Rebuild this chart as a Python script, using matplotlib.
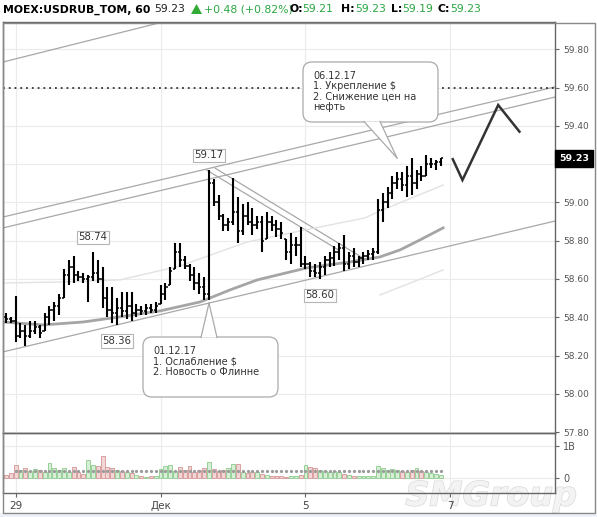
import matplotlib
matplotlib.use("Agg")
import matplotlib.pyplot as plt
import matplotlib.patheffects as pe
from matplotlib.patches import FancyBboxPatch, Polygon, Rectangle
import numpy as np

plt.rcParams['font.family'] = ['DejaVu Sans']

# hourly bars: last two hours of Nov 28, then Nov 29 .. Dec 6 (15 bars a day)
highs = [58.42, 58.40, 58.51, 58.37, 58.36, 58.38, 58.38, 58.36, 58.42, 58.46,
         58.48, 58.52, 58.65, 58.70, 58.72, 58.64, 58.63, 58.62, 58.74, 58.70,
         58.66, 58.56, 58.56, 58.50, 58.53, 58.53, 58.53, 58.47, 58.46, 58.47,
         58.47, 58.48, 58.57, 58.58, 58.66, 58.79, 58.79, 58.72, 58.68, 58.66,
         58.63, 58.61, 59.17, 59.12, 59.04, 58.94, 58.92, 59.13, 59.03, 58.99,
         59.00, 58.97, 58.93, 58.93, 58.95, 58.93, 58.91, 58.90, 58.81, 58.84,
         58.82, 58.87, 58.72, 58.69, 58.68, 58.69, 58.72, 58.74, 58.77, 58.79,
         58.83, 58.74, 58.76, 58.72, 58.74, 58.75, 58.76, 59.02, 59.05, 59.08,
         59.14, 59.16, 59.16, 59.19, 59.23, 59.17, 59.19, 59.25, 59.23, 59.22, 59.23]
lows = [58.37, 58.37, 58.27, 58.29, 58.25, 58.29, 58.31, 58.29, 58.33, 58.36,
        58.38, 58.41, 58.50, 58.57, 58.58, 58.59, 58.58, 58.48, 58.59, 58.58,
        58.45, 58.40, 58.37, 58.36, 58.40, 58.39, 58.38, 58.40, 58.41, 58.41,
        58.42, 58.42, 58.47, 58.49, 58.57, 58.65, 58.66, 58.65, 58.59, 58.54,
        58.52, 58.49, 58.49, 58.98, 58.91, 58.85, 58.85, 58.88, 58.79, 58.83,
        58.88, 58.83, 58.86, 58.74, 58.81, 58.85, 58.82, 58.81, 58.70, 58.68,
        58.72, 58.66, 58.65, 58.61, 58.61, 58.60, 58.62, 58.66, 58.67, 58.70,
        58.64, 58.65, 58.66, 58.66, 58.68, 58.70, 58.70, 58.73, 58.90, 58.97,
        59.02, 59.07, 59.06, 59.03, 59.04, 59.07, 59.11, 59.14, 59.18, 59.17, 59.19]
closes = [58.39, 58.38, 58.30, 58.33, 58.30, 58.33, 58.35, 58.32, 58.40, 58.44,
          58.46, 58.50, 58.62, 58.66, 58.62, 58.61, 58.60, 58.61, 58.63, 58.60,
          58.50, 58.44, 58.42, 58.45, 58.43, 58.46, 58.42, 58.44, 58.43, 58.45,
          58.44, 58.46, 58.52, 58.56, 58.64, 58.74, 58.70, 58.67, 58.62, 58.58,
          58.56, 58.52, 59.10, 59.00, 58.93, 58.88, 58.90, 58.95, 58.85, 58.93,
          58.90, 58.88, 58.90, 58.80, 58.90, 58.88, 58.86, 58.84, 58.74, 58.78,
          58.78, 58.68, 58.68, 58.64, 58.63, 58.66, 58.70, 58.71, 58.74, 58.76,
          58.68, 58.72, 58.69, 58.71, 58.72, 58.73, 58.74, 58.96, 59.00, 59.05,
          59.10, 59.12, 59.09, 59.14, 59.10, 59.15, 59.14, 59.20, 59.20, 59.21, 59.23]
first_open = 58.40
volumes = [0.10, 0.15, 0.40, 0.25, 0.30, 0.22, 0.28, 0.25, 0.20, 0.48,
           0.30, 0.25, 0.30, 0.20, 0.35, 0.18, 0.12, 0.55, 0.42, 0.38,
           0.70, 0.35, 0.30, 0.25, 0.22, 0.20, 0.15, 0.08, 0.05, 0.04,
           0.05, 0.06, 0.28, 0.38, 0.40, 0.22, 0.35, 0.25, 0.38, 0.20,
           0.25, 0.30, 0.50, 0.28, 0.22, 0.25, 0.30, 0.45, 0.45, 0.20,
           0.15, 0.18, 0.20, 0.12, 0.08, 0.06, 0.05, 0.05, 0.04, 0.05,
           0.05, 0.08, 0.40, 0.35, 0.30, 0.25, 0.22, 0.20, 0.22, 0.18,
           0.12, 0.08, 0.06, 0.05, 0.05, 0.06, 0.06, 0.38, 0.30, 0.25,
           0.28, 0.25, 0.22, 0.20, 0.25, 0.30, 0.22, 0.18, 0.15, 0.12, 0.08]
vol_avg = 0.21

# moving averages (bar index, price)
ma_slow_x = [-0.6, 7.7, 15.9, 23.6, 31.9, 40.2, 46.4, 52.0, 62.3, 71.2, 77.4, 81.6, 85.7, 90.5]
ma_slow_y = [58.375, 58.360, 58.375, 58.402, 58.433, 58.480, 58.543, 58.595, 58.658,
             58.689, 58.715, 58.752, 58.804, 58.867]
ma_fast_x = [-0.6, 11.2, 23.6, 36.0, 49.9, 61.9, 74.3, 77.4, 90.5]
ma_fast_y = [58.579, 58.584, 58.595, 58.668, 58.793, 58.856, 58.919, 58.955, 59.091]
band_low_x = [77.4, 90.5]
band_low_y = [58.516, 58.647]

# trend lines: (x0, y0, x1, y1)
trend_lines = [
    (-0.6, 58.924, 113.7, 59.604),
    (-0.6, 58.867, 113.7, 59.551),
    (-0.6, 59.734, 36.6, 59.969),
    (-0.6, 58.219, 113.7, 58.903),
    (41.5, 59.170, 68.8, 58.752),
    (43.3, 59.179, 74.0, 58.708),
]
level_line = 59.60

# forecast zigzag
zig_x = [92.5, 94.5, 101.9, 106.3]
zig_y = [59.226, 59.117, 59.509, 59.370]

pivot_idx = [18, 23, 42, 65]
pivot_kind = ['high', 'low', 'high', 'low']

day_ticks = [2, 32, 62, 92]
day_labels = ['29', 'Дек', '5', '7']
price_ticks = [57.80, 58.00, 58.20, 58.40, 58.60, 58.80, 59.00, 59.20, 59.40, 59.60, 59.80]

W, H = 597, 517
fig = plt.figure(figsize=(W / 100, H / 100), dpi=100)
fig.patch.set_facecolor('white')


def fbox(x0, y0, x1, y1):
    return [x0 / W, 1 - y1 / H, (x1 - x0) / W, (y1 - y0) / H]


# watermark sits behind everything
wm = fig.add_axes([0, 0, 1, 1], zorder=-1)
wm.set_xlim(0, W)
wm.set_ylim(H, 0)
wm.axis('off')
wm.text(577, 496, 'SMGroup', fontsize=24, style='italic', fontweight='bold',
        color='#f3f3f3', ha='right', va='center',
        path_effects=[pe.withStroke(linewidth=1.0, foreground='#dadada')])

ax = fig.add_axes(fbox(3, 22, 555, 433))
vax = fig.add_axes(fbox(3, 433, 555, 493))
vax.patch.set_alpha(0)

n = len(closes)
idx = np.arange(n)
opens = [first_open] + closes[:-1]
opens = [min(max(o, l), h) for o, l, h in zip(opens, lows, highs)]

xlim = (-0.62, 113.66)
grid_c = '#ebebeb'
spine_c = '#666666'

# ---- price panel
ax.set_xlim(*xlim)
ax.set_ylim(57.795, 59.943)
ax.set_xticks(day_ticks)
ax.set_xticklabels([])
ax.tick_params(axis='x', length=0)
ax.yaxis.tick_right()
ax.set_yticks(price_ticks)
ax.set_yticklabels([f'{t:.2f}' for t in price_ticks])
ax.tick_params(axis='y', length=3, color=spine_c, labelsize=6.5, labelcolor='#555555', pad=3)
ax.grid(True, color=grid_c, lw=0.8)
ax.set_axisbelow(True)
for s in ax.spines.values():
    s.set_color(spine_c)
    s.set_linewidth(1)

for x0, y0, x1, y1 in trend_lines:
    ax.plot([x0, x1], [y0, y1], color='#a8a8a8', lw=0.9, zorder=2)
ax.axhline(level_line, color='#333333', lw=1.3, ls=(0, (1, 2.2)), zorder=2)
ax.plot(ma_fast_x, ma_fast_y, color='#e2e2e2', lw=1.0, zorder=2)
ax.plot(band_low_x, band_low_y, color='#e2e2e2', lw=1.0, zorder=2)
ax.plot(ma_slow_x, ma_slow_y, color='#a5a5a5', lw=2.0, zorder=2)

ax.vlines(idx, lows, highs, color='black', lw=1.5, zorder=3)
ax.hlines(opens, idx - 0.45, idx, color='black', lw=1.1, zorder=3)
ax.hlines(closes, idx, idx + 0.45, color='black', lw=1.1, zorder=3)

ax.plot(zig_x, zig_y, color='#333333', lw=1.8, zorder=3, solid_joinstyle='miter')

for i, kind in zip(pivot_idx, pivot_kind):
    v = highs[i] if kind == 'high' else lows[i]
    dy = 7 if kind == 'high' else -8
    ax.annotate(f'{v:.2f}', xy=(i, v), xytext=(0, dy), textcoords='offset points',
                ha='center', va='bottom' if kind == 'high' else 'top', fontsize=7.3,
                color='#333333', zorder=6,
                bbox=dict(boxstyle='square,pad=0.15', fc='white', ec='#b5b5b5', lw=0.8))

ax.annotate(f'{closes[-1]:.2f}', xy=(1, closes[-1]), xycoords=('axes fraction', 'data'),
            xytext=(3, 0), textcoords='offset points', ha='left', va='center',
            fontsize=6.8, fontweight='bold', color='white', annotation_clip=False, zorder=10,
            bbox=dict(boxstyle='square,pad=0.42', fc='black', ec='black'))

# ---- volume panel
vax.set_xlim(*xlim)
vax.set_ylim(-0.47, 1.41)
up = [c >= o for o, c in zip(opens, closes)]
fc = ['#d6efd6' if u else '#f3d6d6' for u in up]
ec = ['#98d098' if u else '#d9a0a0' for u in up]
vax.bar(idx, volumes, width=0.8, color=fc, edgecolor=ec, lw=0.7, zorder=2)
vax.plot(idx[2:], [vol_avg] * (n - 2), ls='none', marker='o', ms=1.3, color='#9a9a9a', zorder=3)
vax.set_xticks(day_ticks)
vax.set_xticklabels(day_labels)
vax.tick_params(axis='x', length=3, color=spine_c, labelsize=7.5, labelcolor='#444444', pad=3)
vax.yaxis.tick_right()
vax.set_yticks([0, 1])
vax.set_yticklabels(['0', '1B'])
vax.tick_params(axis='y', length=3, color=spine_c, labelsize=7, labelcolor='#555555', pad=3)
vax.grid(True, color=grid_c, lw=0.8)
vax.set_axisbelow(True)
for s in vax.spines.values():
    s.set_color(spine_c)
    s.set_linewidth(1)

# ---- overlay in pixel space: header, callouts, frame
ov = fig.add_axes([0, 0, 1, 1], zorder=5)
ov.set_xlim(0, W)
ov.set_ylim(H, 0)
ov.axis('off')
ov.patch.set_alpha(0)

ov.add_patch(Rectangle((0, 513), W, 4, fc='#eef2f8', ec='none'))
ov.add_patch(Rectangle((2.5, 22.5), 592, 490.5, fill=False, ec='#888888', lw=1))

green = '#2aa640'
hy = 9.5
hs = 7.8
ov.text(3, hy, 'MOEX:USDRUB_TOM, 60', fontsize=hs, fontweight='bold', color='black', va='center')
ov.text(154, hy, '59.23', fontsize=hs, color='#222222', va='center')
ov.add_patch(Polygon([(191, 14), (202, 14), (196.5, 4)], fc='#33aa33', ec='none'))
ov.text(204, hy, '+0.48 (+0.82%)', fontsize=hs, color=green, va='center')
for lab, val, xl, xv in [('O:', '59.21', 290, 302), ('H:', '59.23', 341, 355),
                         ('L:', '59.19', 391, 402), ('C:', '59.23', 437, 450)]:
    ov.text(xl, hy, lab, fontsize=hs, fontweight='bold', color='black', va='center')
    ov.text(xv, hy, val, fontsize=hs, color=green, va='center')

callouts = [
    ((303, 62, 438, 122), [(364, 121.5), (380, 121.5), (397, 158)],
     '06.12.17\n1. Укрепление $\n2. Снижение цен на\nнефть'),
    ((143, 337, 278, 397), [(201, 337.5), (217, 337.5), (209, 303)],
     '01.12.17\n1. Ослабление $\n2. Новость о Флинне'),
]
for (x0, y0, x1, y1), tail, txt in callouts:
    ov.add_patch(FancyBboxPatch((x0, y0), x1 - x0, y1 - y0,
                                boxstyle='round,pad=0,rounding_size=9',
                                fc='white', ec='#aaaaaa', lw=0.9, zorder=4))
    ov.add_patch(Polygon(tail, fc='white', ec='none', zorder=5))
    ov.plot([tail[0][0], tail[2][0]], [tail[0][1], tail[2][1]], color='#aaaaaa', lw=0.9, zorder=5)
    ov.plot([tail[1][0], tail[2][0]], [tail[1][1], tail[2][1]], color='#aaaaaa', lw=0.9, zorder=5)
    ov.text(x0 + 10, y0 + 9, txt, fontsize=7, color='#333333', va='top', ha='left',
            linespacing=1.05, zorder=6)

fig.savefig('out.png', dpi=100)
